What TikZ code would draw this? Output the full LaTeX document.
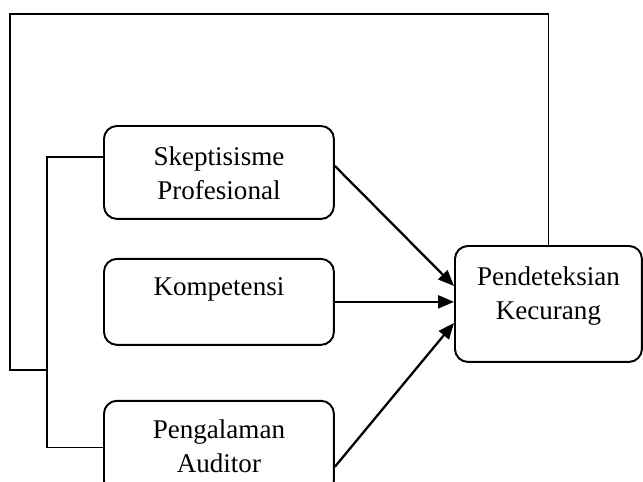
\documentclass[tikz,border=0pt]{standalone}
\usepackage{fontspec}
\setmainfont{Liberation Serif}
\usetikzlibrary{arrows.meta,positioning}
\tikzset{
  box/.style={rectangle, rounded corners=0.26cm, draw=black, line width=1.1pt,
              minimum width=4.6cm, inner sep=0pt, align=center,
              font=\fontsize{15.4}{19.4}\selectfont},
  arrow/.style={-{Triangle[length=0.32cm, width=0.26cm]}, line width=1.3pt},
  link/.style={line width=0.8pt},
}
\begin{document}
\begin{tikzpicture}[x=0.02cm, y=-0.02cm]
\clip (0,0) rectangle (643,481);
\node[box, anchor=north west, text height=1.48cm, text depth=0.38cm] (skep) at (103,125) {Skeptisisme\\Profesional};
\node[box, below=0.76cm of skep, text height=0.74cm, text depth=0.98cm] (komp) {Kompetensi};
\node[box, below=1.08cm of komp, text height=1.44cm, text depth=0.42cm] (peng) {Pengalaman\\Auditor};
\node[box, anchor=north west, minimum width=3.74cm, text height=1.48cm, text depth=0.84cm] (pend) at (454,245) {Pendeteksian\\Kecurang};
% arrows into the dependent variable
\draw[arrow] ([yshift=0.13cm]skep.east) -- ([yshift=0.36cm]pend.west);
\draw[arrow] (komp.east) -- (komp.east -| pend.west);
\draw[arrow] ([yshift=-0.39cm]peng.east) -- ([yshift=-0.38cm]pend.west);
% feedback lines
\coordinate (join) at (47,370);
\draw[link] ([yshift=0.31cm]skep.west) -| (join) |- (peng.west);
\draw[link] (pend.north) |- (10,14) |- (join);
\end{tikzpicture}
\end{document}
